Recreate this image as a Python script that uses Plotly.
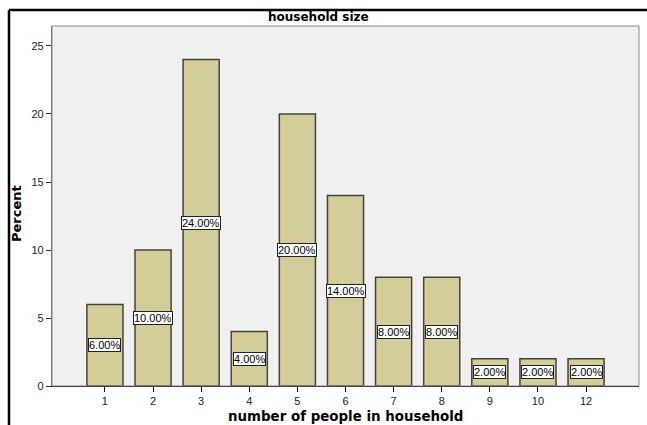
import plotly.graph_objects as go

categories = ["1", "2", "3", "4", "5", "6", "7", "8", "9", "10", "12"]
percents = [6, 10, 24, 4, 20, 14, 8, 8, 2, 2, 2]
y_ticks = [0, 5, 10, 15, 20, 25]

W, H = 647, 425
ml, mr, mt, mb = 52, 8, 26, 39
pw, ph = W - ml - mr, H - mt - mb

def px_x(p):
    return (p - ml) / pw

def px_y(p):
    return (H - mb - p) / ph

fig = go.Figure()
fig.add_trace(go.Bar(
    x=categories, y=percents, width=0.75,
    marker=dict(color="#D3CE99", line=dict(color="#45453a", width=1.5)),
    hoverinfo="skip",
))

annotations = []
for i, v in enumerate(percents):
    annotations.append(dict(
        x=i, y=v / 2, xref="x", yref="y", text=f"{v:.2f}%", showarrow=False,
        font=dict(family="Liberation Sans, Arial", size=11, color="black"),
        bgcolor="white", bordercolor="#222", borderwidth=1, borderpad=0,
    ))
annotations.append(dict(
    x=px_x(318), y=px_y(17), xref="paper", yref="paper", text="<b>household size</b>",
    showarrow=False, font=dict(family="DejaVu Sans", size=12, color="black"),
    xanchor="center", yanchor="middle"))
annotations.append(dict(
    x=px_x(345), y=px_y(416), xref="paper", yref="paper",
    text="<b>number of people in household</b>", showarrow=False,
    font=dict(family="DejaVu Sans", size=13.4, color="black"),
    xanchor="center", yanchor="middle"))
annotations.append(dict(
    x=px_x(17), y=px_y(214), xref="paper", yref="paper", text="<b>Percent</b>",
    textangle=-90, showarrow=False,
    font=dict(family="DejaVu Sans", size=13, color="black"),
    xanchor="center", yanchor="middle"))

shapes = [
    dict(type="rect", xref="paper", yref="paper", x0=0, y0=0, x1=1, y1=1,
         line=dict(color="#8a8a8a", width=1), layer="above"),
    dict(type="line", xref="paper", yref="paper", x0=px_x(9), x1=px_x(648),
         y0=px_y(10), y1=px_y(10), line=dict(color="black", width=2.5)),
    dict(type="line", xref="paper", yref="paper", x0=px_x(9), x1=px_x(9),
         y0=px_y(10), y1=px_y(426), line=dict(color="black", width=2.5)),
]

fig.update_layout(
    width=W, height=H,
    margin=dict(l=ml, r=mr, t=mt, b=mb),
    paper_bgcolor="white", plot_bgcolor="#F0F0F0",
    showlegend=False,
    annotations=annotations, shapes=shapes,
    xaxis=dict(type="category", range=[-1.1, 11.1], showgrid=False,
               showline=True, linecolor="black", linewidth=1.2,
               ticks="outside", ticklen=5, tickcolor="black",
               tickfont=dict(family="Liberation Sans, Arial", size=11, color="#222"),
               fixedrange=True),
    yaxis=dict(range=[0, 26.47], tickvals=y_ticks, showgrid=False, zeroline=False,
               showline=True, linecolor="#666", linewidth=1.2,
               ticks="outside", ticklen=5, tickcolor="#333",
               tickfont=dict(family="Liberation Sans, Arial", size=11, color="#222"),
               fixedrange=True),
)

fig.write_html("out.html", config={"displayModeBar": False},
               post_script="document.body.style.margin='0';document.body.style.overflow='hidden';")
